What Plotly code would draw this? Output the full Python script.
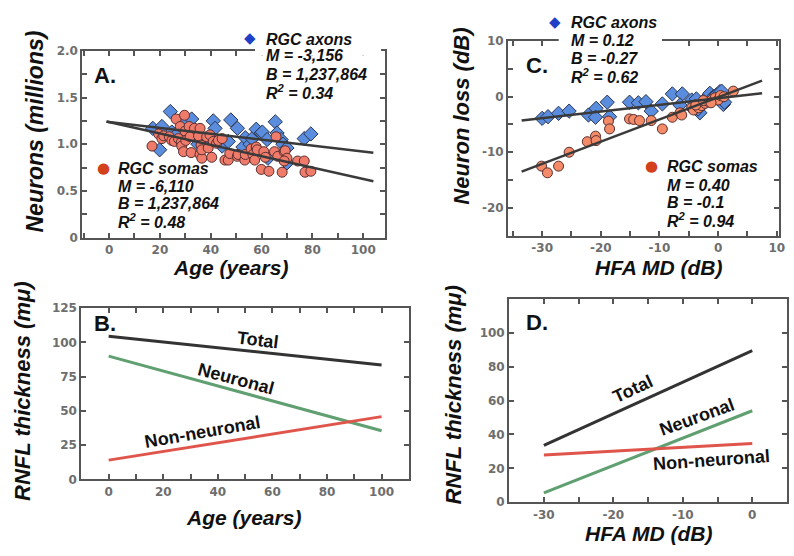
import plotly.graph_objects as go

W, H = 794, 556

# ---------------- data ----------------
# Panel A: neurons (millions) vs age (years)
axon_age = [17.2, 19.9, 20.8, 24.1, 24.7, 26.5, 29.3, 32.5, 33.5, 35.0, 37.5, 40.0, 41.0, 41.7,
            44.5, 46.9, 47.9, 50.5, 52.7, 53.6, 55.5, 56.3, 57.9, 59.9, 60.3, 62.2, 62.5, 65.4,
            66.1, 67.7, 68.4, 70.0, 70.0, 76.8, 79.4]
axon_neur = [1.17, 0.94, 1.19, 1.35, 1.13, 1.10, 1.26, 1.27, 1.12, 1.00, 1.05, 1.04, 1.25, 1.17,
             0.98, 1.03, 1.26, 1.17, 0.97, 1.07, 1.00, 1.06, 1.16, 1.12, 1.13, 1.05, 0.85, 1.24,
             1.12, 1.05, 1.00, 0.96, 0.80, 1.06, 1.11]
soma_age = [16.9, 19.5, 20.8, 21.5, 23.7, 24.7, 25.7, 26.4, 27.3, 28.0, 28.4, 28.6, 29.3, 29.7,
            29.9, 30.2, 31.5, 31.9, 32.3, 33.6, 35.2, 35.8, 35.8, 36.2, 36.5, 36.5, 38.4, 39.0,
            39.7, 40.4, 41.0, 42.3, 43.0, 44.5, 45.6, 46.9, 47.5, 50.5, 50.8, 53.4, 53.6, 55.9,
            56.6, 57.3, 57.9, 58.3, 59.9, 60.9, 61.5, 62.9, 65.1, 65.7, 66.4, 68.1, 68.9, 69.3,
            70.0, 68.9, 74.2, 76.8, 77.1, 79.4]
soma_neur = [0.98, 1.11, 1.06, 1.09, 1.08, 1.04, 1.03, 1.27, 1.06, 1.19, 1.02, 0.98, 0.92, 1.31,
             1.14, 1.04, 1.19, 1.08, 0.91, 1.17, 1.09, 1.17, 0.89, 0.99, 0.85, 0.94, 1.08, 0.96,
             1.10, 0.86, 1.03, 1.01, 1.04, 1.06, 0.83, 0.83, 0.90, 0.87, 0.89, 0.83, 0.89, 0.95,
             0.89, 0.83, 0.97, 0.94, 0.73, 0.92, 0.86, 0.71, 0.92, 1.08, 0.87, 0.70, 0.92, 0.93,
             0.85, 0.82, 0.82, 0.82, 0.70, 0.71]
fitA_age = [-1, 104]
axon_M, axon_B = -3156, 1237864
soma_M, soma_B = -6110, 1237864

# Panel B: RNFL thickness vs age
lineB_age = [0, 100]
B_total = [104.5, 83.5]
B_neuronal = [90, 35.5]
B_nonneuronal = [14, 45.8]

# Panel C: neuron loss (dB) vs HFA MD (dB)
axonC_md = [-30.0, -29.0, -27.2, -25.4, -22.1, -20.8, -20.9, -18.9, -18.5, -15.1, -13.6, -12.3,
            -11.4, -9.5, -7.8, -6.1, -6.5, -4.5, -3.7, -3.1, -2.8, -2.0, -1.4, -0.8, -0.3, 0.3,
            0.6, 0.9, 1.1, -4.0, -3.4]
axonC_loss = [-3.9, -3.6, -3.0, -2.6, -3.3, -2.1, -3.7, -1.0, -3.6, -1.0, -1.1, -0.9,
              -2.6, -1.3, 0.5, 0.5, -1.5, -0.6, -0.4, -2.9, -1.3, -0.2, 0.6, 0.0, 0.3, 0.9,
              1.0, -1.4, -1.0, -1.8, -2.2]
somaC_md = [-30.1, -29.1, -27.2, -25.4, -22.3, -20.9, -20.8, -18.7, -18.5, -15.1, -14.4, -13.4,
            -11.4, -9.5, -7.8, -6.5, -6.2, -4.5, -4.2, -3.3, -2.8, -2.2, -1.6, -1.0, -0.5, 0.0,
            0.4, 1.0, 2.6, -3.8, -2.5, -1.2]
somaC_loss = [-12.5, -13.7, -12.5, -10.0, -8.1, -7.1, -7.9, -4.4, -5.8, -4.0, -4.1, -4.3,
              -4.3, -5.8, -3.7, -2.9, -3.3, -2.0, -2.4, -2.0, -1.6, -1.2, -0.9, -0.5, -0.2, -0.6,
              0.2, 0.0, 1.0, -1.5, -0.7, -1.1]
fitC_md = [-33.5, 7.5]
axonC_M, axonC_B = 0.12, -0.27
somaC_M, somaC_B = 0.40, -0.1

# Panel D: RNFL thickness vs HFA MD
lineD_md = [-30, 0]
D_total = [33.5, 89.5]
D_neuronal = [5.5, 54]
D_nonneuronal = [27.8, 34.6]

# ---------------- styling ----------------
DARK = '#3a3a3a'
AX = '#555555'
TICKFONT = dict(family='DejaVu Sans', size=12, color='#6e6e6e', weight='bold')


def px(x):
    return x / W


def py(y):
    return 1 - y / H


fig = go.Figure()

# Panel A
fig.add_trace(go.Scatter(x=axon_age, y=axon_neur, mode='markers', xaxis='x', yaxis='y',
                         marker=dict(symbol='diamond', size=11, color='#5b8ddf',
                                     line=dict(color='#2b3550', width=1))))
fig.add_trace(go.Scatter(x=soma_age, y=soma_neur, mode='markers', xaxis='x', yaxis='y',
                         marker=dict(symbol='circle', size=10, color='#ef7b6b',
                                     line=dict(color='#5a2e2e', width=1))))
fig.add_trace(go.Scatter(x=fitA_age, y=[(axon_B + axon_M * a) / 1e6 for a in fitA_age],
                         mode='lines', xaxis='x', yaxis='y', line=dict(color=DARK, width=2.5)))
fig.add_trace(go.Scatter(x=fitA_age, y=[(soma_B + soma_M * a) / 1e6 for a in fitA_age],
                         mode='lines', xaxis='x', yaxis='y', line=dict(color=DARK, width=2.5)))

# Panel B
for ys, col in [(B_total, '#333333'), (B_neuronal, '#5f9f70'), (B_nonneuronal, '#e0554b')]:
    fig.add_trace(go.Scatter(x=lineB_age, y=ys, mode='lines', xaxis='x2', yaxis='y2',
                             line=dict(color=col, width=3)))

# Panel C
fig.add_trace(go.Scatter(x=axonC_md, y=axonC_loss, mode='markers', xaxis='x3', yaxis='y3',
                         marker=dict(symbol='diamond', size=11, color='#5b8ddf',
                                     line=dict(color='#2b3550', width=1))))
fig.add_trace(go.Scatter(x=somaC_md, y=somaC_loss, mode='markers', xaxis='x3', yaxis='y3',
                         marker=dict(symbol='circle', size=10, color='#f38a68',
                                     line=dict(color='#5a2e2e', width=1))))
fig.add_trace(go.Scatter(x=fitC_md, y=[axonC_B + axonC_M * m for m in fitC_md],
                         mode='lines', xaxis='x3', yaxis='y3', line=dict(color=DARK, width=2.5)))
fig.add_trace(go.Scatter(x=fitC_md, y=[somaC_B + somaC_M * m for m in fitC_md],
                         mode='lines', xaxis='x3', yaxis='y3', line=dict(color=DARK, width=2.5)))

# Panel D
for ys, col in [(D_total, '#333333'), (D_neuronal, '#5f9f70'), (D_nonneuronal, '#e0554b')]:
    fig.add_trace(go.Scatter(x=lineD_md, y=ys, mode='lines', xaxis='x4', yaxis='y4',
                             line=dict(color=col, width=3)))


def axis(dom, rng, tickvals, ticktext, minor, anchor):
    return dict(domain=dom, range=rng, tickvals=tickvals, ticktext=ticktext,
                showline=True, linecolor=AX, linewidth=2, mirror='ticks',
                ticks='inside', ticklen=5, tickwidth=1.5, tickcolor=AX,
                minor=dict(ticks='inside', ticklen=5, tickwidth=1.5, tickcolor=AX,
                           dtick=minor, showgrid=False),
                showgrid=False, zeroline=False, tickfont=TICKFONT, anchor=anchor,
                fixedrange=True)


# pixel boxes of the four panels
A_box = (83, 388, 45, 236.5)
B_box = (82, 412, 309, 484.5)
C_box = (512, 785, 35, 234.5)
D_box = (513, 793, 299.5, 508)


def xdom(b):
    return [px(b[0]), px(b[1])]


def ydom(b):
    return [py(b[3]), py(b[2])]


xt = [0, 20, 40, 60, 80, 100]
fig.update_layout(
    xaxis=axis(xdom(A_box), [-10.5, 108.6], xt, [str(v) for v in xt], 10, 'y'),
    yaxis=axis(ydom(A_box), [0, 2], [0, 0.5, 1, 1.5, 2], ['0', '0.5', '1.0', '1.5', '2.0'], 0.25, 'x'),
    xaxis2=axis(xdom(B_box), [-10, 110], xt, [str(v) for v in xt], 10, 'y2'),
    yaxis2=axis(ydom(B_box), [0, 125], [0, 25, 50, 75, 100, 125],
                ['0', '25', '50', '75', '100', '125'], 25, 'x2'),
    xaxis3=axis(xdom(C_box), [-35.8, 10.4], [-30, -20, -10, 0, 10],
                ['-30', '-20', '-10', '0', '10'], 5, 'y3'),
    yaxis3=axis(ydom(C_box), [-25, 10], [-20, -10, 0, 10], ['-20', '-10', '0', '10'], 5, 'x3'),
    xaxis4=axis(xdom(D_box), [-35, 5], [-30, -20, -10, 0], ['-30', '-20', '-10', '0'], 5, 'y4'),
    yaxis4=axis(ydom(D_box), [0, 120], [0, 20, 40, 60, 80, 100],
                ['0', '20', '40', '60', '80', '100'], 20, 'x4'),
)

ann = []


def txt(x, y, s, size, bold=True, italic=False, angle=0, xanchor='left', color='#111111',
        family='Liberation Sans', xref='paper', yref='paper'):
    f = dict(family=family, size=size, color=color, weight='bold' if bold else 'normal')
    if italic:
        f['style'] = 'italic'
    ann.append(dict(x=px(x) if xref == 'paper' else x, y=py(y) if yref == 'paper' else y,
                    xref=xref, yref=yref, text=s, showarrow=False, font=f, textangle=angle,
                    xanchor=xanchor, yanchor='middle'))


# white patches interrupting the top border behind the stats boxes
shapes = [
    dict(type='rect', xref='paper', yref='paper', x0=px(257), x1=px(384), y0=py(50), y1=py(40),
         fillcolor='white', line=dict(width=0), layer='above'),
    dict(type='rect', xref='paper', yref='paper', x0=px(563), x1=px(667), y0=py(40), y1=py(30),
         fillcolor='white', line=dict(width=0), layer='above'),
]


def block(gx, gy, glyph, gcol, tx, ys, lines):
    txt(gx, gy, glyph, 15, bold=False, xanchor='center', color=gcol, family='DejaVu Sans')
    for yy, s in zip(ys, lines):
        txt(tx, yy, s, 16, bold=True, italic=True)


block(252, 32, '◆', '#1f3fc8', 266, [33, 50, 69, 87],
      ['RGC axons', 'M = -3,156', 'B = 1,237,864', 'R<sup>2</sup> = 0.34'])
block(104, 165, '●', '#d2401c', 117, [166, 184, 202, 220],
      ['RGC somas', 'M = -6,110', 'B = 1,237,864', 'R<sup>2</sup> = 0.48'])
block(559, 15, '◆', '#1f3fc8', 573, [16, 34, 53, 71],
      ['RGC axons', 'M = 0.12', 'B = -0.27', 'R<sup>2</sup> = 0.62'])
block(656, 163, '●', '#d2401c', 670, [164, 183, 201, 219],
      ['RGC somas', 'M = 0.40', 'B = -0.1', 'R<sup>2</sup> = 0.94'])

# panel letters
txt(93, 70, 'A.', 22)
txt(93, 325, 'B.', 22)
txt(528, 60, 'C.', 22)
txt(528, 324, 'D.', 22)

# axis titles
txt(232, 267, 'Age (years)', 21, italic=True, xanchor='center')
txt(245, 524, 'Age (years)', 21, italic=True, xanchor='center')
txt(664, 267, 'HFA MD (dB)', 21, italic=True, xanchor='center')
txt(654, 540, 'HFA MD (dB)', 21, italic=True, xanchor='center')
txt(35, 128, 'Neurons (millions)', 23, italic=True, angle=-90, xanchor='center')
txt(22, 394, 'RNFL thickness (mμ)', 22, italic=True, angle=-90, xanchor='center')
txt(465, 112, 'Neuron loss (dB)', 22, italic=True, angle=-90, xanchor='center')
txt(457, 398, 'RNFL thickness (mμ)', 22, italic=True, angle=-90, xanchor='center')

# line labels (data coordinates)
txt(54.7, 101.8, 'Total', 18, angle=7, xanchor='center', xref='x2', yref='y2')
txt(46.7, 73.6, 'Neuronal', 18, angle=15, xanchor='center', xref='x2', yref='y2')
txt(34.4, 34.3, 'Non-neuronal', 18, angle=-10, xanchor='center', xref='x2', yref='y2')
txt(-17.2, 66.9, 'Total', 18, angle=-25, xanchor='center', xref='x4', yref='y4')
txt(-7.9, 50.2, 'Neuronal', 18, angle=-20, xanchor='center', xref='x4', yref='y4')
txt(-5.9, 25, 'Non-neuronal', 18, angle=-4, xanchor='center', xref='x4', yref='y4')

fig.update_layout(annotations=ann, shapes=shapes, width=W, height=H, autosize=False,
                  margin=dict(l=0, r=0, t=0, b=0), showlegend=False,
                  paper_bgcolor='white', plot_bgcolor='white')

fig.write_html('out.html', config={'displayModeBar': False},
               post_script="document.body.style.margin='0';document.body.style.overflow='hidden';")
